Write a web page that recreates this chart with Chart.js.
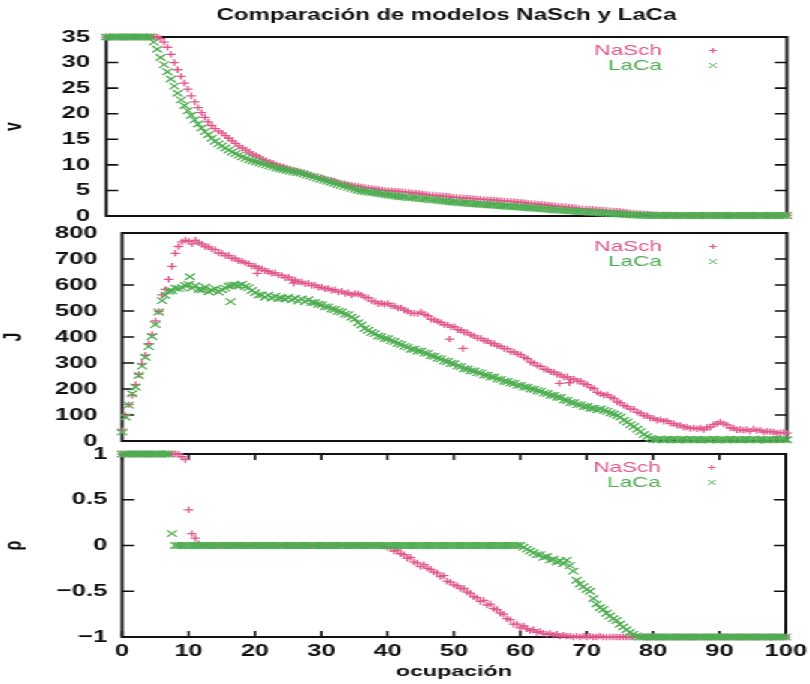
<!DOCTYPE html>
<html>
<head>
<meta charset="utf-8">
<script src="https://cdn.jsdelivr.net/npm/chart.js@4.4.1/dist/chart.umd.min.js"></script>
<style>
  html, body { margin: 0; padding: 0; background: #fff; overflow: hidden; }
  /* the scanned figure is stretched 1.5x horizontally, so draw at 540px and stretch */
  #lienzo { position: relative; width: 540px; height: 684px; transform: scaleX(1.5); transform-origin: 0 0; }
  #lienzo canvas { position: absolute; left: 0; }
</style>
</head>
<body>
<div id="lienzo">
  <canvas id="panelV" width="540" height="230" style="top:0px"></canvas>
  <canvas id="panelJ" width="540" height="240" style="top:215px"></canvas>
  <canvas id="panelRho" width="540" height="244" style="top:440px"></canvas>
</div>
<script>
// ocupación (eje x), paso 0.5
const ocupacion = [
  0,0.5,1,1.5,2,2.5,3,3.5,4,4.5,5,5.5,6,6.5,7,7.5,8,8.5,9,9.5,
  10,10.5,11,11.5,12,12.5,13,13.5,14,14.5,15,15.5,16,16.5,17,17.5,18,18.5,19,19.5,
  20,20.5,21,21.5,22,22.5,23,23.5,24,24.5,25,25.5,26,26.5,27,27.5,28,28.5,29,29.5,
  30,30.5,31,31.5,32,32.5,33,33.5,34,34.5,35,35.5,36,36.5,37,37.5,38,38.5,39,39.5,
  40,40.5,41,41.5,42,42.5,43,43.5,44,44.5,45,45.5,46,46.5,47,47.5,48,48.5,49,49.5,
  50,50.5,51,51.5,52,52.5,53,53.5,54,54.5,55,55.5,56,56.5,57,57.5,58,58.5,59,59.5,
  60,60.5,61,61.5,62,62.5,63,63.5,64,64.5,65,65.5,66,66.5,67,67.5,68,68.5,69,69.5,
  70,70.5,71,71.5,72,72.5,73,73.5,74,74.5,75,75.5,76,76.5,77,77.5,78,78.5,79,79.5,
  80,80.5,81,81.5,82,82.5,83,83.5,84,84.5,85,85.5,86,86.5,87,87.5,88,88.5,89,89.5,
  90,90.5,91,91.5,92,92.5,93,93.5,94,94.5,95,95.5,96,96.5,97,97.5,98,98.5,99,99.5,
  100
];

// velocidad v
const vNaSch = [
  35,35,35,35,35,35,35,35,35,35,35,35,35,35,35,35,34.7,34.0,33.0,31.6,
  30.0,28.6,27.3,26.0,24.8,23.5,22.3,21.2,20.2,19.3,18.4,17.7,17.1,16.6,16.2,15.7,15.2,14.7,14.2,13.7,
  13.3,12.9,12.5,12.1,11.8,11.5,11.1,10.8,10.5,10.3,10.0,9.8,9.6,9.4,9.2,9.0,8.8,8.6,8.4,8.2,
  8.0,7.8,7.7,7.5,7.3,7.1,7.0,6.8,6.6,6.4,6.3,6.1,6.0,5.9,5.8,5.7,5.6,5.5,5.4,5.3,
  5.2,5.1,5.0,4.95,4.9,4.85,4.8,4.75,4.7,4.6,4.5,4.45,4.4,4.3,4.2,4.15,4.1,4.0,3.95,3.9,
  3.85,3.8,3.7,3.65,3.6,3.55,3.5,3.45,3.4,3.35,3.3,3.25,3.2,3.15,3.1,3.05,3.0,2.95,2.9,2.85,
  2.8,2.7,2.65,2.6,2.5,2.45,2.4,2.3,2.25,2.2,2.1,2.05,2.0,1.9,1.85,1.8,1.7,1.65,1.6,1.5,
  1.45,1.4,1.35,1.3,1.25,1.2,1.15,1.1,1.05,1.0,0.95,0.9,0.8,0.75,0.65,0.6,0.5,0.45,0.4,0.35,
  0.3,0.25,0.25,0.2,0.2,0.2,0.2,0.18,0.18,0.16,0.16,0.15,0.15,0.15,0.14,0.14,0.13,0.13,0.12,0.12,
  0.12,0.12,0.12,0.11,0.11,0.11,0.1,0.1,0.1,0.1,0.1,0.1,0.1,0.1,0.1,0.1,0.1,0.1,0.1,0.1,
  0.1
];
const vLaCa = [
  35,35,35,35,35,35,35,35,35,35,35,35,35,35,34.0,32.6,31.0,29.6,28.2,26.8,
  25.4,24.0,22.7,21.6,20.6,19.7,18.8,18.0,17.2,16.5,15.9,15.2,14.6,14.1,13.7,13.3,12.9,12.5,12.2,11.9,
  11.6,11.3,11.0,10.8,10.6,10.4,10.2,10.0,9.8,9.6,9.4,9.25,9.1,8.95,8.8,8.65,8.5,8.4,8.2,8.0,
  7.8,7.6,7.4,7.2,7.0,6.8,6.6,6.4,6.2,6.0,5.8,5.6,5.4,5.2,5.05,4.9,4.8,4.7,4.6,4.5,
  4.4,4.3,4.2,4.1,4.0,3.9,3.8,3.75,3.7,3.6,3.55,3.5,3.4,3.35,3.3,3.2,3.15,3.1,3.0,2.95,
  2.9,2.8,2.75,2.7,2.6,2.55,2.5,2.45,2.4,2.35,2.3,2.25,2.2,2.15,2.1,2.05,2.0,1.95,1.9,1.85,
  1.8,1.75,1.7,1.65,1.6,1.55,1.5,1.45,1.4,1.35,1.3,1.25,1.2,1.15,1.1,1.05,1.0,0.96,0.92,0.88,
  0.85,0.8,0.75,0.7,0.66,0.62,0.58,0.55,0.5,0.45,0.42,0.38,0.33,0.28,0.24,0.2,0.17,0.15,0.13,0.12,
  0.11,0.1,0.1,0.1,0.1,0.1,0.1,0.1,0.1,0.1,0.1,0.1,0.1,0.1,0.1,0.1,0.1,0.1,0.1,0.1,
  0.1,0.1,0.1,0.1,0.1,0.1,0.1,0.1,0.1,0.1,0.1,0.1,0.1,0.1,0.1,0.1,0.1,0.1,0.1,0.1,
  0.1
];

// flujo J
const jNaSch = [
  40,98,140,176,217,256,297,330,374,410,462,498,562,583,622,672,722,748,766,772,
  768,758,772,763,757,748,747,738,736,723,722,713,714,703,702,693,692,686,682,673,
  672,665,662,655,652,645,647,638,637,628,630,620,619,612,612,605,607,598,599,591,
  592,585,587,579,582,573,576,567,570,562,567,566,561,553,551,538,536,528,530,526,
  529,520,519,511,512,503,500,492,491,490,496,486,482,468,466,460,456,448,446,438,
  440,428,426,418,417,408,404,396,394,386,385,376,374,366,364,356,354,343,342,334,
  332,322,317,303,300,290,287,276,274,266,264,256,254,246,247,238,238,230,230,220,
  217,205,202,187,182,176,178,168,164,150,147,136,132,123,122,110,107,98,97,88,
  87,80,82,76,77,68,67,60,60,53,54,48,50,47,50,44,52,53,64,66,
  73,66,62,50,50,43,44,42,44,38,46,40,42,34,37,36,35,30,32,33,
  30
];
const jLaCa = [
  35,92,138,182,208,252,288,322,363,402,448,496,540,560,576,578,588,586,590,598,
  602,588,597,583,582,592,574,580,586,573,582,588,596,598,600,597,603,594,590,579,
  570,561,562,553,561,550,557,548,550,546,552,543,549,538,546,536,543,533,532,526,
  524,516,516,508,506,499,496,488,486,476,470,455,446,433,426,417,413,404,401,394,
  393,386,383,375,371,364,361,353,353,346,345,338,337,328,326,318,316,308,306,298,
  297,288,286,278,277,270,269,263,261,254,253,246,246,238,237,230,229,223,221,214,
  214,208,207,200,199,193,191,184,183,176,175,168,167,158,156,148,147,140,139,133,
  133,126,126,120,123,117,114,108,104,98,92,80,73,63,56,45,36,25,17,10,
  6,5,8,4,6,5,7,4,5,6,4,7,5,6,4,5,6,5,7,4,
  5,6,4,7,5,6,4,5,6,5,7,4,6,5,4,6,5,7,5,6,
  5
];
// puntos sueltos fuera de la banda
const jNaSchSueltosX = [20.3, 25.8, 49.3, 51.3, 65.8, 67.3];
const jNaSchSueltosY = [645, 607, 392, 356, 222, 224];
const jLaCaSueltosX = [10.2, 16.3];
const jLaCaSueltosY = [632, 536];

// rho
const rhoNaSch = [
  1,1,1,1,1,1,1,1,1,1,1,1,1,1,1,1,1,1,0.97,0.94,
  0.39,0.13,0.08,0.02,0,0,0,0,0,0,0,0,0,0,0,0,0,0,0,0,
  0,0,0,0,0,0,0,0,0,0,0,0,0,0,0,0,0,0,0,0,
  0,0,0,0,0,0,0,0,0,0,0,0,0,0,0,0,0,0,0,-0.01,
  -0.02,-0.03,-0.06,-0.05,-0.09,-0.1,-0.14,-0.13,-0.18,-0.19,-0.23,-0.21,-0.25,-0.26,-0.29,-0.3,-0.34,-0.33,-0.39,-0.4,
  -0.43,-0.44,-0.47,-0.47,-0.51,-0.52,-0.56,-0.57,-0.61,-0.6,-0.65,-0.64,-0.69,-0.7,-0.74,-0.75,-0.8,-0.81,-0.86,-0.86,
  -0.9,-0.88,-0.91,-0.93,-0.92,-0.95,-0.94,-0.96,-0.97,-0.96,-0.98,-0.97,-0.99,-0.98,-0.99,-0.99,-1,-0.99,-1,-0.99,
  -1,-0.99,-1,-1,-0.99,-1,-1,-1,-1,-1,-1,-1,-1,-1,-1,-1,-1,-1,-1,-1,
  -1,-1,-1,-1,-1,-1,-1,-1,-1,-1,-1,-1,-1,-1,-1,-1,-1,-1,-1,-1,
  -1,-1,-1,-1,-1,-1,-1,-1,-1,-1,-1,-1,-1,-1,-1,-1,-1,-1,-1,-1,
  -1
];
const rhoLaCa = [
  1,1,1,1,1,1,1,1,1,1,1,1,1,1,1,0.13,0,0,0,0,
  0,0,0,0,0,0,0,0,0,0,0,0,0,0,0,0,0,0,0,0,
  0,0,0,0,0,0,0,0,0,0,0,0,0,0,0,0,0,0,0,0,
  0,0,0,0,0,0,0,0,0,0,0,0,0,0,0,0,0,0,0,0,
  0,0,0,0,0,0,0,0,0,0,0,0,0,0,0,0,0,0,0,0,
  0,0,0,0,0,0,0,0,0,0,0,0,0,0,0,0,0,0,0,0,
  0,-0.02,-0.04,-0.06,-0.08,-0.1,-0.1,-0.13,-0.12,-0.16,-0.15,-0.18,-0.17,-0.2,-0.16,-0.22,-0.28,-0.38,-0.42,-0.45,
  -0.48,-0.5,-0.58,-0.64,-0.68,-0.7,-0.74,-0.77,-0.8,-0.82,-0.86,-0.89,-0.92,-0.95,-0.97,-0.99,-1,-1,-1,-1,
  -1,-1,-1,-1,-1,-1,-1,-1,-1,-1,-1,-1,-1,-1,-1,-1,-1,-1,-1,-1,
  -1,-1,-1,-1,-1,-1,-1,-1,-1,-1,-1,-1,-1,-1,-1,-1,-1,-1,-1,-1,
  -1
];

// marcas de los ejes
const xTicks = [0, 10, 20, 30, 40, 50, 60, 70, 80, 90, 100];
const vTicks = [0, 5, 10, 15, 20, 25, 30, 35];
const jTicks = [0, 100, 200, 300, 400, 500, 600, 700, 800];
const rhoTicks = [-1, -0.5, 0, 0.5, 1];
const rhoTickLabels = ['\u22121', '\u22120.5', '0', '0.5', '1'];

const rosa = '#e0578a';
const verde = '#4fad52';
const tinta = '#111111';
const fuente = '"Liberation Sans", Arial, Helvetica, sans-serif';

Chart.defaults.font.family = fuente;
Chart.defaults.color = tinta;

function puntos(xs, ys) {
  return xs.map((x, i) => ({ x: x, y: ys[i] }));
}

// borde y marcas hacia dentro, estilo gnuplot, y leyenda arriba a la derecha
const marco = {
  id: 'marco',
  beforeDatasetsDraw(chart, args, opts) {
    const { ctx, chartArea: a } = chart;
    const sx = chart.scales.x, sy = chart.scales.y;
    ctx.save();
    ctx.strokeStyle = tinta;
    ctx.lineWidth = 1.6;
    ctx.beginPath();
    sy.ticks.forEach(t => {
      const py = sy.getPixelForValue(t.value);
      ctx.moveTo(a.left, py); ctx.lineTo(a.left + 8, py);
      ctx.moveTo(a.right - 8, py); ctx.lineTo(a.right, py);
    });
    if (opts.ticksX) {
      sx.ticks.forEach(t => {
        const px = sx.getPixelForValue(t.value);
        ctx.moveTo(px, a.top); ctx.lineTo(px, a.top + 6);
        ctx.moveTo(px, a.bottom); ctx.lineTo(px, a.bottom - 6);
      });
    }
    ctx.stroke();
    ctx.lineWidth = 2;
    ctx.strokeRect(a.left, a.top, a.right - a.left, a.bottom - a.top);
    ctx.restore();
  },
  afterDatasetsDraw(chart) {
    const { ctx, chartArea: a } = chart;
    ctx.save();
    ctx.font = '15px ' + fuente;
    ctx.textAlign = 'right';
    ctx.textBaseline = 'middle';
    chart.data.datasets.filter(d => d.label).forEach((d, i) => {
      const ty = a.top + 13.5 + i * 15;
      ctx.fillStyle = d.borderColor;
      ctx.fillText(d.label, a.right - 83.3, ty);
      const mx = a.right - 49.3;
      ctx.strokeStyle = d.borderColor;
      ctx.lineWidth = 1;
      ctx.beginPath();
      if (d.pointStyle === 'cross') {
        ctx.moveTo(mx - 2.5, ty); ctx.lineTo(mx + 2.5, ty);
        ctx.moveTo(mx, ty - 2.5); ctx.lineTo(mx, ty + 2.5);
      } else {
        ctx.moveTo(mx - 2.5, ty - 2.5); ctx.lineTo(mx + 2.5, ty + 2.5);
        ctx.moveTo(mx - 2.5, ty + 2.5); ctx.lineTo(mx + 2.5, ty - 2.5);
      }
      ctx.stroke();
    });
    ctx.restore();
  }
};

function serie(label, datos, color, estilo, orden) {
  return {
    label: label,
    data: datos,
    borderColor: color,
    backgroundColor: color,
    pointStyle: estilo,
    pointRadius: estilo === 'cross' ? 3.2 : 4.6,
    pointBorderWidth: 1.3,
    showLine: false,
    clip: false,
    order: orden
  };
}

// la separación de las etiquetas se hace con una marca transparente,
// para que el padding de las etiquetas no empuje el área del gráfico
function rejillaInvisible(largo) {
  return { display: true, drawOnChartArea: false, drawTicks: true, tickLength: largo, tickColor: 'rgba(0,0,0,0)' };
}

function panel(id, cfg) {
  const yScale = {
    type: 'linear',
    min: cfg.yMin,
    max: cfg.yMax,
    afterBuildTicks: s => { s.ticks = cfg.yTicks.map(v => ({ value: v })); },
    afterFit: s => { s.width = cfg.yWidth; },
    grid: rejillaInvisible(cfg.yPad),
    border: { display: false },
    ticks: {
      font: { size: 17, weight: 'bold' },
      padding: 0,
      callback: cfg.yLabels ? (v => cfg.yLabels[cfg.yTicks.indexOf(v)]) : (v => String(v))
    },
    title: { display: true, text: cfg.yTitle, font: { size: 16, weight: 'bold' }, padding: { top: 0, bottom: 0 } }
  };
  const xScale = {
    type: 'linear',
    min: 0,
    max: 100,
    display: !!cfg.xTitle,
    afterBuildTicks: s => { s.ticks = xTicks.map(v => ({ value: v })); },
    grid: rejillaInvisible(4),
    border: { display: false },
    ticks: { font: { size: 17, weight: 'bold' }, padding: 0, maxRotation: 0 },
    title: cfg.xTitle ? { display: true, text: cfg.xTitle, font: { size: 15.5, weight: 'bold' }, padding: { top: 0, bottom: 3 } } : { display: false }
  };
  if (cfg.xTitle) xScale.afterFit = s => { s.height = 47; };

  return new Chart(document.getElementById(id), {
    type: 'scatter',
    data: { datasets: cfg.datasets },
    options: {
      responsive: false,
      animation: false,
      events: [],
      layout: { padding: cfg.padding },
      scales: { x: xScale, y: yScale },
      plugins: {
        legend: { display: false },
        tooltip: { enabled: false },
        title: cfg.title ? {
          display: true, text: cfg.title, fullSize: false, color: tinta,
          font: { size: 16, weight: 'bold' }, padding: { top: 6.3, bottom: 11.5 }
        } : { display: false },
        marco: { ticksX: !!cfg.xTitle }
      }
    },
    plugins: [marco]
  });
}

panel('panelV', {
  title: 'Comparación de modelos NaSch y LaCa',
  yMin: 0, yMax: 35, yTicks: vTicks, yTitle: 'v', yWidth: 70.67, yPad: 10.7,
  padding: { left: 0, right: 15.33, top: 0, bottom: 14 },
  datasets: [
    serie('NaSch', puntos(ocupacion, vNaSch), rosa, 'cross', 1),
    serie('LaCa', puntos(ocupacion, vLaCa), verde, 'crossRot', 0)
  ]
});

panel('panelJ', {
  yMin: 0, yMax: 800, yTicks: jTicks, yTitle: 'J', yWidth: 81.33, yPad: 16.5,
  padding: { left: 0, right: 15.33, top: 18, bottom: 14 },
  datasets: [
    serie('NaSch', puntos(ocupacion, jNaSch).concat(puntos(jNaSchSueltosX, jNaSchSueltosY)), rosa, 'cross', 1),
    serie('LaCa', puntos(ocupacion, jLaCa).concat(puntos(jLaCaSueltosX, jLaCaSueltosY)), verde, 'crossRot', 0)
  ]
});

panel('panelRho', {
  yMin: -1, yMax: 1, yTicks: rhoTicks, yLabels: rhoTickLabels, yTitle: 'ρ', yWidth: 81.33, yPad: 10,
  xTitle: 'ocupación',
  padding: { left: 0, right: 16, top: 14, bottom: 0 },
  datasets: [
    serie('NaSch', puntos(ocupacion, rhoNaSch), rosa, 'cross', 1),
    serie('LaCa', puntos(ocupacion, rhoLaCa), verde, 'crossRot', 0)
  ]
});
</script>
</body>
</html>
